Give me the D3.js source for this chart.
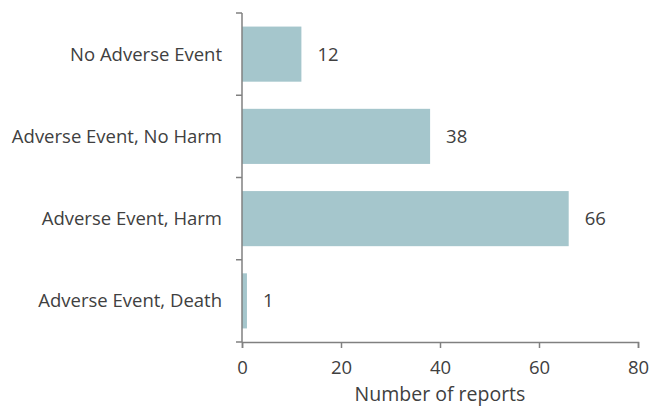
<!DOCTYPE html>
<html lang="en">
<head>
<meta charset="utf-8">
<script src="https://d3js.org/d3.v7.min.js"></script>
<style>
  body { margin: 0; background: #fff; }
  text { font-family: "Open Sans", sans-serif; fill: #404040; }
</style>
</head>
<body>
<svg id="main" width="649" height="407"></svg>
<script>
const categories = ['No Adverse Event', 'Adverse Event, No Harm', 'Adverse Event, Harm', 'Adverse Event, Death'];
const reports = [12, 38, 66, 1];
const xTicks = [0, 20, 40, 60, 80];

let svg = d3.select('svg#main');
let plotLeft = 242, plotRight = 638, plotTop = 13, plotBottom = 342;
let fs = '18.5px';

let x = d3.scaleLinear().domain([0, 80]).range([plotLeft, plotRight]);
let y = d3.scaleBand().domain(categories).range([plotTop, plotBottom])
    .paddingInner(0.33).paddingOuter(0.165);

// bars
svg.selectAll('rect.bar')
    .data(categories)
    .enter().append('rect')
    .attr('class', 'bar')
    .attr('x', x(0))
    .attr('y', d => y(d))
    .attr('width', (d, i) => x(reports[i]) - x(0))
    .attr('height', y.bandwidth())
    .attr('fill', '#a5c6cc');

// value labels
svg.selectAll('text.val')
    .data(categories)
    .enter().append('text')
    .attr('class', 'val')
    .attr('x', (d, i) => x(reports[i]) + 16)
    .attr('y', d => y(d) + y.bandwidth() / 2)
    .attr('dy', '0.35em')
    .style('font-size', fs)
    .text((d, i) => reports[i]);

// x axis
let xAxis = svg.append('g')
    .attr('transform', 'translate(0,' + plotBottom + ')')
    .call(d3.axisBottom(x).tickValues(xTicks).tickSize(6).tickPadding(13));
xAxis.selectAll('text').style('font-size', fs).attr('fill', '#404040');
xAxis.select('.domain').attr('stroke', '#808080').attr('stroke-width', 1.5);
xAxis.selectAll('.tick line').attr('stroke', '#808080').attr('stroke-width', 1.5);

// y axis with ticks between categories
let yAxis = svg.append('g').attr('transform', 'translate(' + plotLeft + ',0)');
yAxis.append('line')
    .attr('y1', plotTop).attr('y2', plotBottom)
    .attr('stroke', '#808080').attr('stroke-width', 1.5);
let bounds = [plotTop].concat(categories.map(d => y(d) + y.bandwidth() + y.step() * 0.165));
yAxis.selectAll('line.tk')
    .data(bounds)
    .enter().append('line')
    .attr('class', 'tk')
    .attr('x1', -6).attr('x2', 0)
    .attr('y1', d => d).attr('y2', d => d)
    .attr('stroke', '#808080').attr('stroke-width', 1.5);
yAxis.selectAll('text.cat')
    .data(categories)
    .enter().append('text')
    .attr('class', 'cat')
    .attr('x', -20)
    .attr('y', d => y(d) + y.bandwidth() / 2)
    .attr('dy', '0.35em')
    .attr('text-anchor', 'end')
    .style('font-size', fs)
    .text(d => d);

svg.append('text')
    .attr('x', (plotLeft + plotRight) / 2)
    .attr('y', 401)
    .attr('text-anchor', 'middle')
    .style('font-size', '19.5px')
    .text('Number of reports');
</script>
</body>
</html>
